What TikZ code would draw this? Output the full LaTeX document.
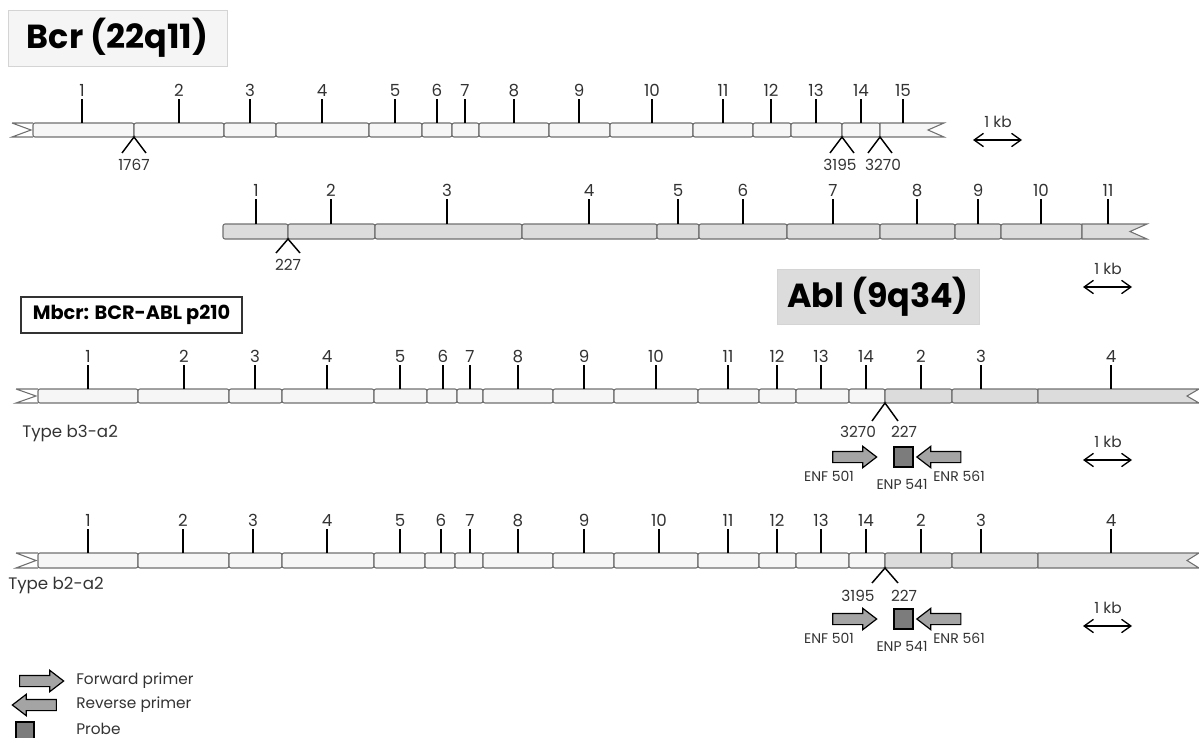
\documentclass[tikz,border=0pt]{standalone}
\usepackage{fontspec}
\setmainfont{Poppins}
\usetikzlibrary{arrows.meta, positioning, shapes.arrows}

\definecolor{bcrfill}{HTML}{F6F6F6}
\definecolor{ablfill}{HTML}{DCDCDC}
\definecolor{exline}{HTML}{707070}
\definecolor{numgray}{HTML}{333333}
\definecolor{primerfill}{HTML}{A4A4A4}
\definecolor{probefill}{HTML}{7C7C7C}
\definecolor{bcrtitlefill}{HTML}{F5F5F5}
\definecolor{titleline}{HTML}{D4D4D4}

\begin{document}
\begin{tikzpicture}[
    x=0.75pt, y=-0.75pt,
    bcrexon/.style={
        draw=exline,
        fill=bcrfill,
        line width=0.8pt,
        rounded corners=1.5pt
    },
    ablexon/.style={
        bcrexon,
        fill=ablfill
    },
    notch/.style={
        draw=exline,
        line width=0.8pt
    },
    tick/.style={
        line width=1.1pt
    },
    exnum/.style={
        anchor=south,
        inner sep=1pt,
        text=numgray,
        font=\fontsize{12.5}{12.5}\selectfont
    },
    brk/.style={
        line width=1.1pt
    },
    bpnum/.style={
        inner sep=0pt,
        text=numgray,
        font=\fontsize{11.5}{11.5}\selectfont
    },
    kb/.style={
        inner sep=0pt,
        text=numgray,
        font=\fontsize{11.5}{11.5}\selectfont
    },
    kbarrow/.style={
        {Straight Barb[length=7pt,width=10pt]}-{Straight Barb[length=7pt,width=10pt]},
        line width=1pt
    },
    fwd/.style={
        single arrow,
        draw=black,
        fill=primerfill,
        line width=0.9pt,
        minimum height=33pt,
        inner xsep=0pt,
        inner ysep=3.75pt,
        single arrow head extend=3.75pt,
        single arrow tip angle=75
    },
    rev/.style={
        fwd,
        shape border rotate=180
    },
    probe/.style={
        draw=black,
        fill=probefill,
        line width=0.9pt,
        minimum width=14.25pt,
        minimum height=15pt,
        inner sep=0pt
    },
    oligo/.style={
        inner sep=0pt,
        text=numgray,
        font=\fontsize{10.5}{10.5}\selectfont
    },
    title/.style={
        draw=titleline,
        inner sep=0pt,
        font=\fontsize{25}{25}\selectfont\bfseries
    },
    rowlabel/.style={
        anchor=west,
        inner sep=0pt,
        text=numgray,
        font=\fontsize{12.5}{12.5}\selectfont
    },
    legend/.style={
        anchor=west,
        inner sep=0pt,
        text=numgray,
        font=\fontsize{11.5}{11.5}\selectfont
    }
]
\useasboundingbox (0,0) rectangle (1199,738);

% titles
\node[title, fill=bcrtitlefill, minimum width=164.25pt, minimum height=42pt] (bcrtitle) at (117.5,38) {Bcr (22q11)};
\node[title, fill=ablfill, minimum width=151.5pt, minimum height=41.25pt] (abltitle) at (878,296.5) {Abl (9q34)};
\node[draw=numgray, line width=1pt, inner sep=0pt, minimum width=165.75pt, minimum height=27pt,
      font=\fontsize{14.5}{14.5}\selectfont\bfseries] (mbcr) at (131.5,315) {Mbcr: BCR-ABL p210};

% Bcr gene
\draw[notch] (12,123) -- (33,123) (12,123) -- (31,130) -- (12,137) -- (33,137);
\foreach \a/\b in {33/134, 134/224, 224/276, 276/369, 369/422, 422/452, 452/479, 479/549,
                   549/610, 610/693, 693/753, 753/791, 791/842, 842/880}
    \draw[bcrexon] (\a,123) rectangle (\b,137);
\filldraw[bcrexon, rounded corners=0pt] (880,123) -- (944,123) -- (928,130) -- (944,137) -- (880,137) -- cycle;
\foreach \x/\n in {82/1, 179/2, 250/3, 322/4, 395/5, 437/6, 465/7, 514/8, 579/9, 652/10,
                   723/11, 771/12, 816/13, 861/14, 903/15}
    \draw[tick] (\x,123) -- (\x,99) node[exnum] {\n};
\foreach \x/\lx/\n in {134/134/1767, 842/840/3195, 880/883/3270} {
    \coordinate (j\n) at (\x,137);
    \draw[brk] ([shift={(-12,16)}]j\n) -- (j\n) -- ([shift={(12,16)}]j\n);
    \node[bpnum] (bp\n) at (\lx,165) {\n};
}
\node[kb] (kbbcr) at (998,122) {1 kb};
\draw[kbarrow] (973,140) -- (1022,140);

% Abl gene
\foreach \a/\b in {223/288, 288/375, 375/522, 522/657, 657/699, 699/787, 787/880,
                   880/955, 955/1001, 1001/1082}
    \draw[ablexon] (\a,224) rectangle (\b,239);
\filldraw[ablexon, rounded corners=0pt] (1082,224) -- (1147,224) -- (1130,231.5) -- (1147,239) -- (1082,239) -- cycle;
\foreach \x/\n in {256/1, 331/2, 447/3, 589/4, 678/5, 743/6, 833/7, 917/8, 978/9, 1041/10, 1108/11}
    \draw[tick] (\x,224) -- (\x,199) node[exnum] {\n};
\coordinate (j227) at (288,239);
\draw[brk] ([shift={(-12,14)}]j227) -- (j227) -- ([shift={(12,14)}]j227);
\node[bpnum] (bp227) at (288,265) {227};
\node[kb] (kbabl) at (1108,269) {1 kb};
\draw[kbarrow] (1083,287) -- (1132,287);

% Type b3-a2
\draw[notch] (16,389) -- (38,389) (16,389) -- (36,396) -- (16,403) -- (38,403);
\foreach \a/\b in {38/138, 138/229, 229/282, 282/374, 374/427, 427/457, 457/483, 483/553,
                   553/614, 614/698, 698/759, 759/796, 796/849, 849/885}
    \draw[bcrexon] (\a,389) rectangle (\b,403);
\foreach \a/\b in {885/952, 952/1038}
    \draw[ablexon] (\a,389) rectangle (\b,403);
\filldraw[ablexon, rounded corners=0pt] (1038,389) -- (1199,389) -- (1187,396) -- (1199,403) -- (1038,403) -- cycle;
\foreach \x/\n in {88/1, 184/2, 255/3, 327/4, 400/5, 443/6, 470/7, 518/8, 584/9, 656/10,
                   728/11, 777/12, 821/13, 866/14, 921/2, 981/3, 1111/4}
    \draw[tick] (\x,389) -- (\x,365) node[exnum] {\n};
\coordinate (jb3) at (885,403);
\draw[brk] ([shift={(-13,18)}]jb3) -- (jb3) -- ([shift={(13,18)}]jb3);
\node[bpnum] (bpb3) at (858,432) {3270};
\node[bpnum] (bpa2) at (904,432) {227};
\node[rowlabel] (typeb3) at (22,433) {Type b3-a2};
\node[fwd] (enfb3) at (851,457) {};
\node[probe] (enpb3) at (903.5,457) {};
\node[rev] (enrb3) at (942.5,457) {};
\node[oligo] at (829,476) {ENF 501};
\node[oligo] at (902,484) {ENP 541};
\node[oligo] at (959,476) {ENR 561};
\node[kb] (kbb3) at (1108,442) {1 kb};
\draw[kbarrow] (1083,460) -- (1132,460);

% Type b2-a2
\draw[notch] (16,553) -- (38,553) (16,553) -- (36,560.5) -- (16,568) -- (38,568);
\foreach \a/\b in {38/138, 138/229, 229/282, 282/374, 374/425, 425/455, 455/483, 483/553,
                   553/614, 614/698, 698/759, 759/796, 796/849, 849/885}
    \draw[bcrexon] (\a,553) rectangle (\b,568);
\foreach \a/\b in {885/952, 952/1038}
    \draw[ablexon] (\a,553) rectangle (\b,568);
\filldraw[ablexon, rounded corners=0pt] (1038,553) -- (1199,553) -- (1187,560.5) -- (1199,568) -- (1038,568) -- cycle;
\foreach \x/\n in {88/1, 183/2, 253/3, 327/4, 400/5, 441/6, 470/7, 518/8, 584/9, 659/10,
                   728/11, 777/12, 821/13, 866/14, 921/2, 981/3, 1111/4}
    \draw[tick] (\x,553) -- (\x,529) node[exnum] {\n};
\coordinate (jb2) at (885,568);
\draw[brk] ([shift={(-13,15)}]jb2) -- (jb2) -- ([shift={(13,15)}]jb2);
\node[bpnum] (bpb2) at (858,596) {3195};
\node[bpnum] (bpa2b) at (904,596) {227};
\node[rowlabel] (typeb2) at (8,585) {Type b2-a2};
\node[fwd] (enfb2) at (851,619) {};
\node[probe] (enpb2) at (903.5,619) {};
\node[rev] (enrb2) at (942.5,619) {};
\node[oligo] at (829,638) {ENF 501};
\node[oligo] at (902,646) {ENP 541};
\node[oligo] at (959,638) {ENR 561};
\node[kb] (kbb2) at (1108,608) {1 kb};
\draw[kbarrow] (1083,626) -- (1132,626);

% legend
\node[fwd] (legfwd) at (38,681) {};
\node[rev] (legrev) at (38,705) {};
\node[probe, minimum width=13.5pt, minimum height=13.5pt] (legprobe) at (25,731) {};
\node[legend] at (76,681) {Forward primer};
\node[legend] at (76,705) {Reverse primer};
\node[legend] at (76,729) {Probe};

\end{tikzpicture}
\end{document}
